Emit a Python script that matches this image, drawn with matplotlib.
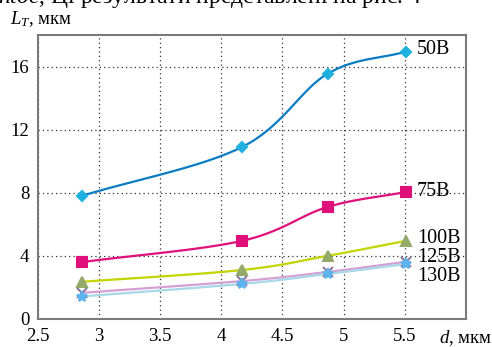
import numpy as np
import matplotlib
matplotlib.use('Agg')
import matplotlib.pyplot as plt

plt.rcParams['font.family'] = ['Liberation Serif', 'DejaVu Serif']
plt.rcParams['mathtext.fontset'] = 'custom'
plt.rcParams['mathtext.rm'] = 'Liberation Serif'
plt.rcParams['mathtext.it'] = 'Liberation Serif:italic'

# data
d = [2.86, 4.17, 4.87, 5.51]
lt_50 = [7.8, 10.9, 15.55, 16.95]
lt_75 = [3.6, 4.95, 7.1, 8.05]
lt_100 = [2.35, 3.1, 4.0, 4.95]
lt_125 = [1.65, 2.4, 2.98, 3.62]
lt_130 = [1.42, 2.22, 2.85, 3.48]
labels = ['50В', '75В', '100В', '125В', '130В']
label_y = [17.1, 8.1, 5.1, 3.9, 2.7]

# style
line_cols = ['#0a7cc4', '#e0107a', '#c4d400', '#d4a0d4', '#a6d8e8']
mark_cols = ['#1fb0e0', '#e0107a', '#94aa68', '#8a7c9e', '#5cb4f0']
markers = ['D', 's', '^', 'x', '*']
msizes = [5, 7.5, 7, 7, 8]
fsize = 13.5
fsize_lab = 14.5


def smooth(x, y, n=40):
    # catmull-rom curve through the points
    x = np.asarray(x, float); y = np.asarray(y, float)
    px = np.r_[2*x[0]-x[1], x, 2*x[-1]-x[-2]]
    py = np.r_[2*y[0]-y[1], y, 2*y[-1]-y[-2]]
    xs, ys = [], []
    t = np.linspace(0, 1, n)
    for i in range(1, len(px)-2):
        for p, out in ((px, xs), (py, ys)):
            p0, p1, p2, p3 = p[i-1], p[i], p[i+1], p[i+2]
            out.extend(0.5*((2*p1) + (-p0+p2)*t + (2*p0-5*p1+4*p2-p3)*t**2
                            + (-p0+3*p1-3*p2+p3)*t**3))
    return np.array(xs), np.array(ys)


fig = plt.figure(figsize=(4.92, 3.47), dpi=100)
ax = fig.add_axes([0.0766, 0.081, 0.8705, 0.818])

series = [lt_50, lt_75, lt_100, lt_125, lt_130]
for ii, ys in enumerate(series):
    sx, sy = smooth(d, ys)
    ax.plot(sx, sy, color=line_cols[ii], lw=1.6, zorder=3)
    ax.plot(d, ys, ls='none', marker=markers[ii], ms=msizes[ii],
            color=mark_cols[ii], mec=mark_cols[ii], mew=1.5, zorder=4)
    ax.text(5.6, label_y[ii], labels[ii], fontsize=fsize_lab, va='center',
            ha='left', zorder=5)

ax.set_xlim(2.5, 6.0)
ax.set_ylim(0, 18)
ax.set_xticks([2.5, 3, 3.5, 4, 4.5, 5, 5.5, 6])
ax.set_xticklabels(['2.5', '3', '3.5', '4', '4.5', '5', '5.5', '$d$, мкм'])
ax.set_yticks([0, 4, 8, 12, 16])
ax.tick_params(length=0, labelsize=fsize)
ax.tick_params(axis='x', pad=6.5)
ax.tick_params(axis='y', pad=6)
ax.grid(True, ls=(0, (1, 2.5)), color='#333333', lw=0.9)
for s in ax.spines.values():
    s.set_color('#7a7a7a')
    s.set_linewidth(1.5)

fig.text(0.02, 0.945, '$L_T$, мкм', fontsize=fsize, va='center', ha='left')
fig.text(-0.005, 1.005, '$\\it{ntoc}$, Ці результати представлені на рис. 4',
         fontsize=17, va='center', ha='left')

plt.savefig('out.png', dpi=100)
